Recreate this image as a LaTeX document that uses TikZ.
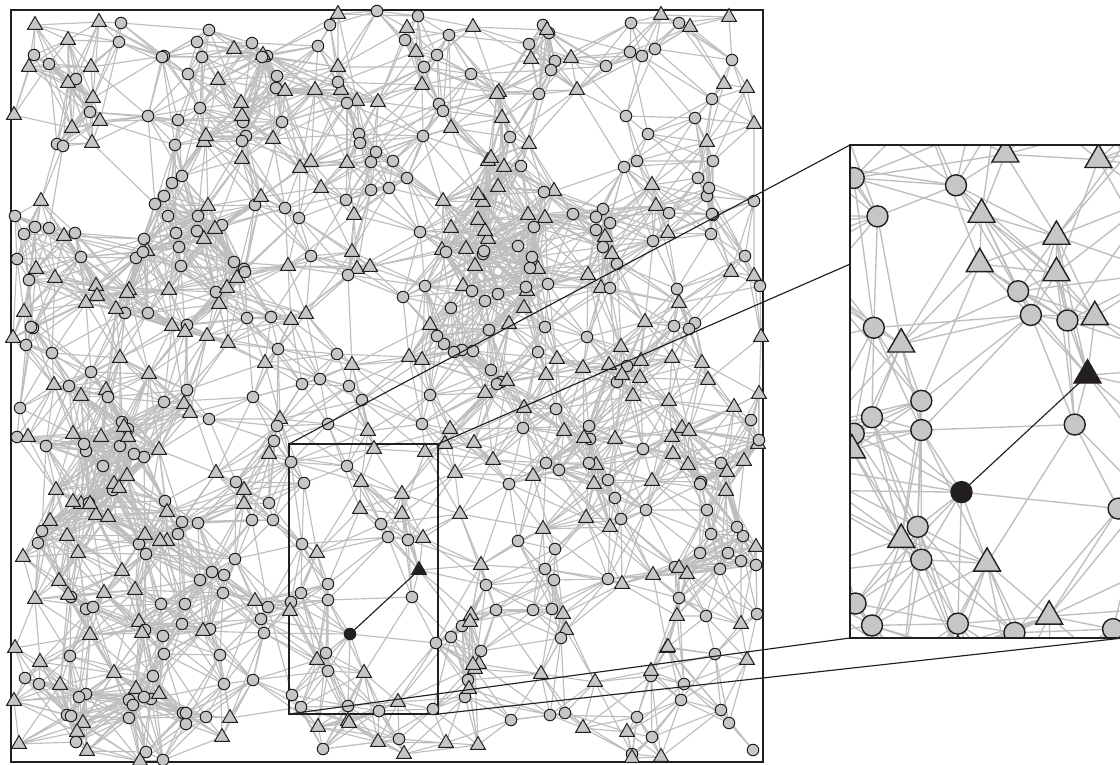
\documentclass[tikz,border=0pt]{standalone}
\usetikzlibrary{shapes.geometric}
\definecolor{edgegray}{RGB}{190,190,190}
\definecolor{nodegray}{RGB}{198,198,198}
\definecolor{inkdark}{RGB}{35,31,32}

\newcount\NN \NN=0
\newcount\ci \newcount\cj \newcount\tx \newcount\ty
\newcount\ddx \newcount\ddy \newcount\dsq \newcount\hh \newcount\tmpc \newcount\rc
\newif\ifinrect \newif\ifinbox

\def\addnode#1#2#3{\global\advance\NN by 1
  \expandafter\xdef\csname nx\the\NN\endcsname{#1}%
  \expandafter\xdef\csname ny\the\NN\endcsname{#2}%
  \expandafter\xdef\csname nt\the\NN\endcsname{#3}}

% nodes inside the magnified window (type 0 circle, 1 triangle, 2 black circle, 3 black triangle)
\addnode{350}{634}{2}
\addnode{419}{570}{3}
\addnode{291}{462}{0}
\addnode{304}{483}{0}
\addnode{347}{466}{0}
\addnode{374}{449}{1}
\addnode{425}{452}{1}
\addnode{361}{482}{1}
\addnode{402}{494}{1}
\addnode{360}{509}{1}
\addnode{402}{514}{1}
\addnode{381}{524}{0}
\addnode{388}{537}{0}
\addnode{423}{538}{1}
\addnode{408}{540}{0}
\addnode{302}{544}{0}
\addnode{317}{553}{1}
\addnode{328}{584}{0}
\addnode{301}{593}{0}
\addnode{291}{602}{0}
\addnode{290}{611}{1}
\addnode{328}{600}{0}
\addnode{412}{597}{0}
\addnode{436}{643}{0}
\addnode{326}{653}{0}
\addnode{317}{660}{1}
\addnode{328}{671}{0}
\addnode{364}{673}{1}
\addnode{292}{695}{0}
\addnode{301}{707}{0}
\addnode{348}{706}{0}
\addnode{398}{702}{1}
\addnode{379}{711}{0}
\addnode{433}{709}{0}

% random nodes elsewhere
\pgfmathsetseed{31415}
\rc=0
\loop\ifnum\rc<570
  \pgfmathtruncatemacro\rx{random(13,761)}%
  \pgfmathtruncatemacro\ry{random(11,761)}%
  \pgfmathtruncatemacro\rt{random(0,99)}%
  \inrectfalse
  \ifnum\rx>284 \ifnum\rx<443 \ifnum\ry>439 \ifnum\ry<719 \inrecttrue\fi\fi\fi\fi
  \ifinrect\else
    \advance\rc by 1
    \ifnum\rt<45 \addnode{\rx}{\ry}{1}\else\addnode{\rx}{\ry}{0}\fi
  \fi
\repeat

% links
\def\Rone{95}\def\RoneSq{9025}\def\RzeroSq{1600}
\let\pfx\relax
\def\addedge{\xdef\curadj{\curadj(\pfx\the\ci)--(\pfx\the\cj)}}
\def\innerloop{%
  \loop\ifnum\cj<\NN
    \advance\cj by 1
    \ddx=\csname nx\the\cj\endcsname\relax
    \advance\ddx by -\tx
    \ifnum\ddx<0 \ddx=-\ddx\fi
    \ifnum\ddx<\Rone\relax
      \ddy=\csname ny\the\cj\endcsname\relax
      \advance\ddy by -\ty
      \dsq=\numexpr\ddx*\ddx+\ddy*\ddy\relax
      \ifnum\dsq<\RoneSq\relax
        \ifnum\dsq<\RzeroSq\relax
          \addedge
        \else
          \hh=\numexpr\ci*7919+\cj*6271\relax
          \tmpc=\hh \divide\tmpc by 9973 \multiply\tmpc by 9973 \advance\hh by -\tmpc
          \hh=\numexpr\hh*\hh+\ci*31+\cj*17\relax
          \tmpc=\hh \divide\tmpc by 1000 \multiply\tmpc by 1000 \advance\hh by -\tmpc
          \ifnum\numexpr\hh*(\RoneSq-\RzeroSq)\relax<\numexpr1000*(\RoneSq-\dsq)\relax
            \addedge
          \fi
        \fi
      \fi
    \fi
  \repeat}
\ci=0
\loop\ifnum\ci<\NN
  \advance\ci by 1
  \tx=\csname nx\the\ci\endcsname\relax
  \ty=\csname ny\the\ci\endcsname\relax
  \gdef\curadj{}%
  \cj=\ci
  {\innerloop}%
  \global\expandafter\let\csname adj\the\ci\endcsname\curadj
\repeat
\edef\NNm{\the\NN}

\newcommand\netcoords[1]{%
  \foreach \k in {1,...,\NNm}{%
    \edef\cx{\csname nx\k\endcsname}\edef\cy{\csname ny\k\endcsname}%
    \coordinate (#1\k) at (\cx,\cy);
  }}
\newcommand\boxtest[4]{%
  \inboxtrue
  \ifnum\cx<#1 \inboxfalse\fi \ifnum\cx>#2 \inboxfalse\fi
  \ifnum\cy<#3 \inboxfalse\fi \ifnum\cy>#4 \inboxfalse\fi}
\newcommand\netedges[5]{%
  \def\pfx{#1}%
  \foreach \k in {1,...,\NNm}{%
    \edef\cx{\csname nx\k\endcsname}\edef\cy{\csname ny\k\endcsname}%
    \boxtest{#2}{#3}{#4}{#5}%
    \expandafter\ifx\csname adj\k\endcsname\empty\inboxfalse\fi
    \ifinbox
      \edef\tmp{\noexpand\draw[netedge]\csname adj\k\endcsname;}\tmp
    \fi
  }}
\newcommand\netmarkers[5]{%
  \foreach \k in {1,...,\NNm}{%
    \edef\cx{\csname nx\k\endcsname}\edef\cy{\csname ny\k\endcsname}%
    \boxtest{#2}{#3}{#4}{#5}%
    \ifinbox
      \edef\tmp{\noexpand\node[ntype\csname nt\k\endcsname] (#1m\k) at (#1\k) {};}\tmp
    \fi
  }}

\def\mkw{1pt}
\def\edw{1.15pt}
\tikzset{
  netedge/.style={draw=edgegray, line width=\edw},
  circ/.style={circle, draw=inkdark, fill=nodegray, line width=\mkw, minimum size=11.5pt, inner sep=0pt},
  tri/.style={regular polygon, regular polygon sides=3, draw=inkdark, fill=nodegray, line width=\mkw, minimum size=17pt, inner sep=0pt},
  ntype0/.style={circ},
  ntype1/.style={tri},
  ntype2/.style={circ, fill=inkdark},
  ntype3/.style={tri, fill=inkdark},
  frame/.style={draw=inkdark, line width=1.15pt},
  zoomline/.style={draw=inkdark, line width=1.15pt},
  blackline/.style={draw=inkdark, line width=1.15pt},
}

\begin{document}
\begin{tikzpicture}[x=1pt, y=-1pt]
\useasboundingbox (0,0) rectangle (1120,764);
% corners
\coordinate (fTL) at (11,10);
\coordinate (fBR) at (763,762);
\coordinate (rTL) at (289,444);
\coordinate (rTR) at (438,444);
\coordinate (rBR) at (438,714);
\coordinate (rBL) at (289,714);
\coordinate (zTL) at (850,145);
\coordinate (zTR) at (1123,145);
\coordinate (zBR) at (1123,638);
\coordinate (zBL) at (850,638);

% main network
\netcoords{p}
\netedges{p}{-9999}{9999}{-9999}{9999}
\draw[frame] (fTL) rectangle (fBR);
\draw[frame] (rTL) rectangle (rBR);
\draw[blackline] (p1) -- (p2);
\netmarkers{p}{-9999}{9999}{-9999}{9999}

% lines to the magnified window
\draw[zoomline] (rTL) -- (zTL);
\draw[zoomline] (rTR) -- (zTR);
\draw[zoomline] (rBR) -- (zBR);
\draw[zoomline] (rBL) -- (zBL);

% magnified window
\fill[white] (zTL) rectangle (zBR);
\begin{scope}
  \clip (zTL) rectangle (zBR);
  \begin{scope}[shift={(322.286,-665.744)}, scale=1.826, transform shape]
    \def\mkw{1.4pt}\def\edw{1.35pt}
    \netcoords{q}
    \netedges{q}{194}{533}{349}{809}
    \draw[blackline] (q1) -- (q2);
    \netmarkers{q}{274}{453}{429}{729}
  \end{scope}
\end{scope}
\draw[frame] (zTL) rectangle (zBR);
\end{tikzpicture}
\end{document}
